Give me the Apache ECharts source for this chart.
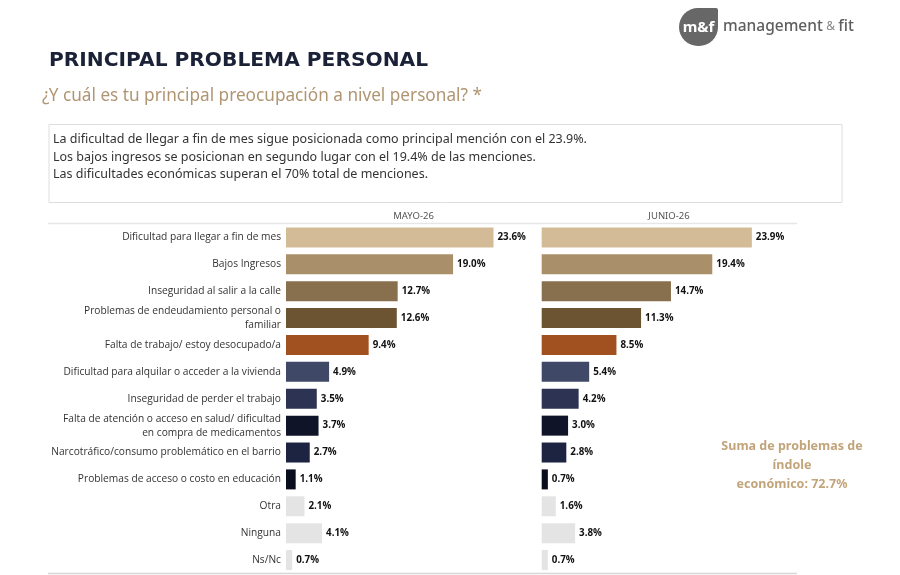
<!DOCTYPE html>
<html><head><meta charset="utf-8">
<script src="https://cdn.jsdelivr.net/npm/echarts@6/dist/echarts.min.js"></script>
<style>html,body{margin:0;padding:0;background:#fff}#c{width:900px;height:575px}</style>
</head><body><div id="c"></div>
<script>
const categories = [
  'Dificultad para llegar a fin de mes',
  'Bajos Ingresos',
  'Inseguridad al salir a la calle',
  'Problemas de endeudamiento personal o\nfamiliar',
  'Falta de trabajo/ estoy desocupado/a',
  'Dificultad para alquilar o acceder a la vivienda',
  'Inseguridad de perder el trabajo',
  'Falta de atención o acceso en salud/ dificultad\nen compra de medicamentos',
  'Narcotráfico/consumo problemático en el barrio',
  'Problemas de acceso o costo en educación',
  'Otra',
  'Ninguna',
  'Ns/Nc'
];
const periods = ['MAYO-26', 'JUNIO-26'];
const mayo = [23.6, 19.0, 12.7, 12.6, 9.4, 4.9, 3.5, 3.7, 2.7, 1.1, 2.1, 4.1, 0.7];
const junio = [23.9, 19.4, 14.7, 11.3, 8.5, 5.4, 4.2, 3.0, 2.8, 0.7, 1.6, 3.8, 0.7];
const barColors = ['#d3bb98', '#aa8f6b', '#88704f', '#6c5331', '#a0511f', '#3f4867', '#2d3453', '#0f1429', '#1d2442', '#0a0d1c', '#e4e4e4', '#e4e4e4', '#e4e4e4'];
const noteLines = [
  'La dificultad de llegar a fin de mes sigue posicionada como principal mención con el 23.9%.',
  'Los bajos ingresos se posicionan en segundo lugar con el 19.4% de las menciones.',
  'Las dificultades económicas superan el 70% total de menciones.'
];
const title = 'PRINCIPAL PROBLEMA PERSONAL';
const subtitle = '¿Y cuál es tu principal preocupación a nivel personal? *';
const annotation = 'Suma de problemas de\níndole\neconómico: 72.7%';

const chart = echarts.init(document.getElementById('c'), null, {renderer: 'canvas'});
const FONT = '"Open Sans", "Noto Sans", sans-serif';
const gTop = 224, gH = 349.5;
const grids = [
  {left: 286, top: gTop, width: 255, height: gH},
  {left: 541.7, top: gTop, width: 255, height: gH}
];
function mkSeries(vals, idx) {
  return {
    type: 'bar', xAxisIndex: idx, yAxisIndex: idx, barWidth: 20,
    data: vals.map((v, i) => ({value: v, itemStyle: {color: barColors[i]}})),
    label: {show: true, position: 'right', distance: 4, formatter: p => p.value.toFixed(1) + '%',
      fontFamily: FONT, fontSize: 9.8, fontWeight: 'bold', color: '#111'},
    silent: true, animation: false
  };
}
const option = {
  animation: false,
  grid: grids,
  xAxis: [0, 1].map(i => ({type: 'value', gridIndex: i, min: 0, max: 29, show: false})),
  yAxis: [0, 1].map(i => ({
    type: 'category', gridIndex: i, data: categories, inverse: true,
    axisLine: {show: false}, axisTick: {show: false},
    axisLabel: {show: i === 0, fontFamily: FONT, fontSize: 10.2, color: '#333', margin: 5, align: 'right', lineHeight: 14}
  })),
  series: [mkSeries(mayo, 0), mkSeries(junio, 1)],
  graphic: [
    {type: 'text', left: 49, top: 51, style: {text: title, font: 'bold 20.2px "DejaVu Sans", sans-serif', fill: '#1b2238'}},
    {type: 'text', left: 42, top: 88, style: {text: subtitle, font: '17.2px "Noto Sans", sans-serif', fill: '#b09572'}},
    {type: 'rect', shape: {x: 49, y: 124.5, width: 793, height: 78}, style: {fill: '#fff', stroke: '#dedede', lineWidth: 1}},
    ...noteLines.map((t, i) => ({type: 'text', left: 53, top: 133 + i * 17.5, style: {text: t, font: '12.5px "Noto Sans", sans-serif', fill: '#333'}})),
    {type: 'text', x: 413.5, y: 216, style: {text: periods[0], font: '9.5px "Noto Sans", sans-serif', fill: '#555', align: 'center', verticalAlign: 'middle'}},
    {type: 'text', x: 669, y: 216, style: {text: periods[1], font: '9.5px "Noto Sans", sans-serif', fill: '#555', align: 'center', verticalAlign: 'middle'}},
    {type: 'line', shape: {x1: 48, y1: 223.5, x2: 797, y2: 223.5}, style: {stroke: '#e6e6e6', lineWidth: 1.5}},
    {type: 'line', shape: {x1: 48, y1: 573.5, x2: 797, y2: 573.5}, style: {stroke: '#d6d6d6', lineWidth: 1.5}},
    {type: 'text', x: 792, y: 465, style: {text: annotation, font: 'bold 12.5px "Noto Sans", sans-serif', fill: '#c2a47b', align: 'center', verticalAlign: 'middle', lineHeight: 19}},
    {type: 'rect', shape: {x: 679, y: 8, width: 39, height: 38, r: [19, 2, 19, 19]}, style: {fill: '#676767'}},
    {type: 'text', x: 698.5, y: 27.5, style: {text: 'm&f', font: 'bold 15px "Noto Sans", sans-serif', fill: '#fff', align: 'center', verticalAlign: 'middle'}},
    {type: 'text', x: 723, y: 27, style: {
      text: '{a|management} {b|&} {a|fit}', verticalAlign: 'middle',
      rich: {a: {font: '500 15.5px "Noto Sans", sans-serif', fill: '#5e5e5e'}, b: {font: '12px "Noto Sans", sans-serif', fill: '#888'}}
    }}
  ]
};
chart.setOption(option);
</script></body></html>
